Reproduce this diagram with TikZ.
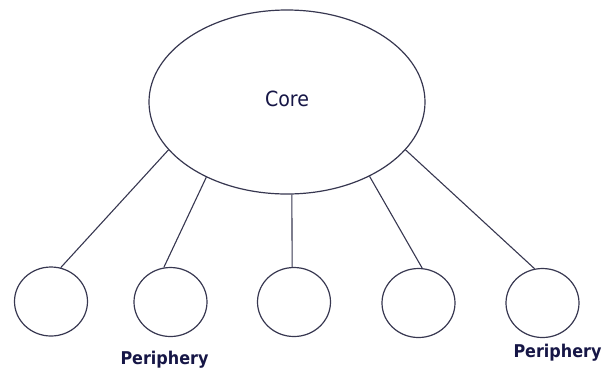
\documentclass[tikz,border=0pt]{standalone}
\usepackage{fontspec}
\setmainfont{DejaVu Sans}
\usetikzlibrary{shapes.geometric}
\definecolor{linecol}{RGB}{55,55,80}
\definecolor{textcol}{RGB}{22,22,70}
\tikzset{
  corebox/.style={draw=linecol, line width=1.2pt, ellipse, minimum width=276pt, minimum height=184pt, inner sep=0pt},
  peribox/.style={draw=linecol, line width=1.2pt, ellipse, minimum width=73pt, minimum height=69pt, inner sep=0pt},
  link/.style={draw=linecol, line width=1.1pt},
  coretxt/.style={text=textcol, font=\fontsize{19}{22}\selectfont, anchor=base, inner sep=0pt},
  peritxt/.style={text=textcol, font=\bfseries\fontsize{16}{19}\selectfont, anchor=base, inner sep=0pt}
}
\begin{document}
\begin{tikzpicture}[x=1pt,y=-1pt]
\useasboundingbox (0,0) rectangle (603,368);
\node[corebox] (core) at (287,102) {};
\node[coretxt] (coretext) at (287,106) {\scalebox{1}[1.1]{Core}};
\node[peribox] (p1) at (51,301.5) {};
\node[peribox] (p2) at (170.5,302) {};
\node[peribox] (p3) at (294,302) {};
\node[peribox] (p4) at (418.5,303) {};
\node[peribox] (p5) at (542.5,303) {};
\draw[link] (core.202) -- (p1.74);
\draw[link] (core.223) -- (p2.101);
\draw[link] (core.273.1) -- (p3.93.3);
\draw[link] (core.318) -- (p4.84);
\draw[link] (core.338.5) -- (p5.103);
\node[peritxt] (lab1) at (164.5,364) {\scalebox{1}[1.1]{Periphery}};
\node[peritxt] (lab2) at (557.5,357) {\scalebox{1}[1.1]{Periphery}};
\end{tikzpicture}
\end{document}
